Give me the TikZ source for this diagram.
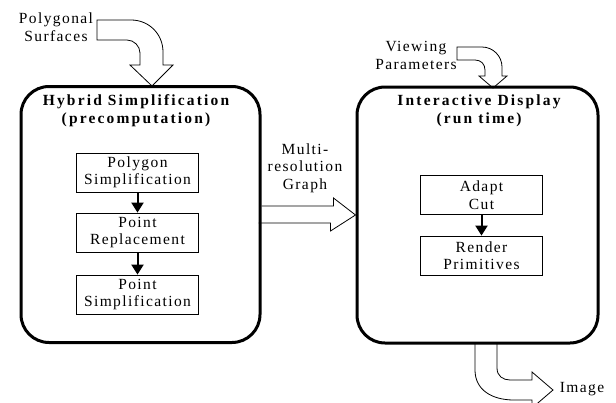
\documentclass[tikz,border=0pt]{standalone}
\usepackage{fontspec}
\setmainfont{Liberation Serif}[LetterSpace=9]
\usetikzlibrary{arrows.meta}
\begin{document}
\begin{tikzpicture}[x=1pt, y=-1pt,
    every node/.style={font=\fontsize{15.5}{17.5}\selectfont, inner sep=0pt, align=center},
    bigbox/.style={draw, line width=3pt, rounded corners=28pt, minimum height=256pt},
    heading/.style={font=\fontsize{15.5}{18}\selectfont\bfseries\addfontfeatures{LetterSpace=14}},
    stage/.style={draw, line width=0.8pt, minimum width=122pt, minimum height=39pt},
    flow/.style={line width=2pt, -{Triangle[width=12pt,length=10pt]}},
    blockarrow/.style={draw, line width=0.8pt}]
\clip (0,0) rectangle (616,402);

% Two main stages
\node[bigbox, minimum width=239pt] (hybrid) at (140.5,214.5) {};
\node[bigbox, minimum width=241pt] (display) at (477.5,215) {};
\node[heading] (hybridtitle) at (136,111) {Hybrid Simplification\\(precomputation)};
\node[heading] (displaytitle) at (479,111) {Interactive Display\\(run time)};

% Precomputation steps
\node[stage] (polysimp) at (137.5,172.5) {Polygon\\Simplification};
\node[stage] (pointrep) at (137.5,232.5) {Point\\Replacement};
\node[stage] (pointsimp) at (137.5,294.5) {Point\\Simplification};
\draw[flow] (polysimp) -- (pointrep);
\draw[flow] (pointrep) -- (pointsimp);

% Run time steps
\node[stage] (adaptcut) at (481.5,195) {Adapt\\Cut};
\node[stage] (render) at (481.5,255.5) {Render\\Primitives};
\draw[flow] (adaptcut) -- (render);

% Inputs and outputs
\node (surfaces) at (56,27) {Polygonal\\Surfaces};
\draw[blockarrow] (97,40) -- (97,20) -- (131,20) .. controls (149,20) and (163,34) .. (163,52)
    -- (163,65) -- (173,65) -- (152,86) -- (130,65) -- (140,65) -- (140,53)
    .. controls (140,46) and (134,40) .. (127,40) -- cycle;

\node (viewing) at (416,55.5) {Viewing\\Parameters};
\draw[blockarrow] (457,60) -- (457,47) -- (482,47) .. controls (493,47) and (502,56) .. (502,67)
    -- (502,76) -- (507,76) -- (493,88) -- (479,76) -- (485,76) -- (485,70)
    .. controls (485,64) and (481,60) .. (475,60) -- cycle;

\node (graphlabel) at (305,168) {Multi-\\resolution\\Graph};
\draw[blockarrow] (hybrid.east) ++(0,-8.5) -- ++(72,0) -- ++(0,-8) -- (display.west)
    -- ++(-25,16) -- ++(0,-8) -- ++(-72,0);

\node (image) at (582,389) {Image};
\draw[blockarrow] (475,343) -- (475,370) .. controls (475,390) and (492,400) .. (514,400)
    -- (532,400) -- (532,408) -- (553,390) -- (532,372) -- (532,380) -- (510,380)
    .. controls (503,380) and (497,376) .. (497,368) -- (497,343);
\end{tikzpicture}
\end{document}
